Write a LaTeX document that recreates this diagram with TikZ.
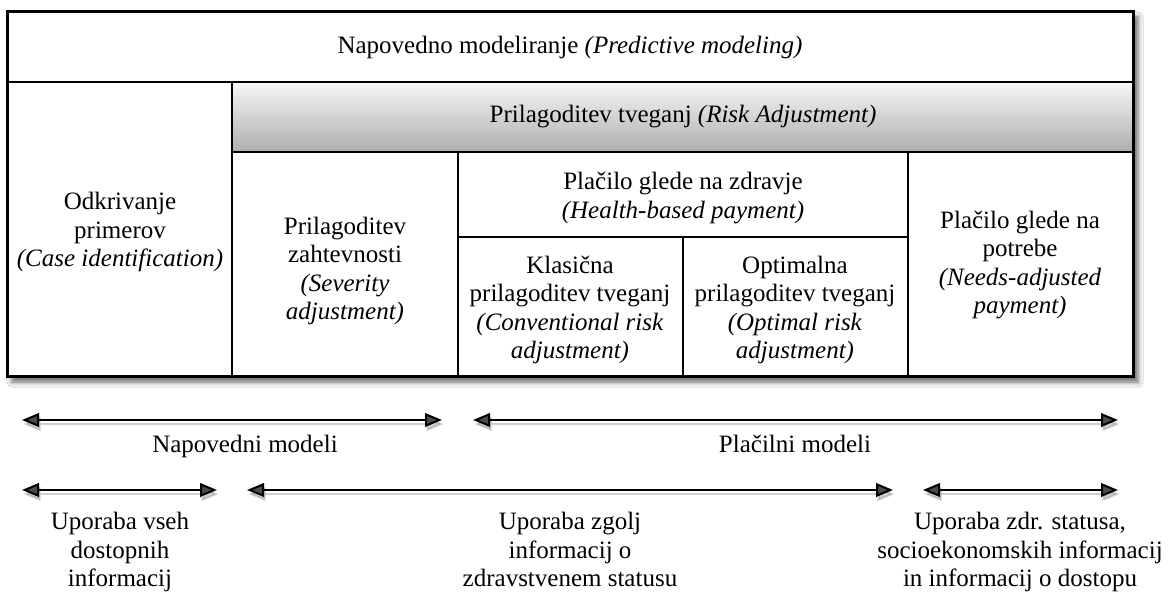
\documentclass[tikz,border=0pt]{standalone}
\usepackage{fontspec}
\setmainfont{Liberation Serif}
\usetikzlibrary{arrows.meta,shadows.blur}
\begin{document}
\begin{tikzpicture}[x=0.5pt,y=-0.5pt,
  font=\fontsize{12.5}{14.2}\selectfont,
  txt/.style={align=center, inner sep=0pt},
  grid/.style={line width=1.1pt},
  arr/.style={line width=1pt, {Triangle[length=8.5pt,width=6.8pt]}-{Triangle[length=8.5pt,width=6.8pt]}},
  arrshadow/.style={arr, draw=black!45, fill=black!45, opacity=0.4, transform canvas={xshift=0.8pt,yshift=-2pt}}]
\useasboundingbox (0,0) rectangle (1176,592);
\fill[white] (0,0) rectangle (1176,592);
% main table with shadow
\path[fill=white, blur shadow={shadow xshift=2.5pt,shadow yshift=-2.5pt,shadow blur radius=2.5pt,shadow opacity=60}] (7,12) rectangle (1133,377);
\shade[top color=black!3, bottom color=black!32] (232,82) rectangle (1133,152);
\draw[grid] (7,82) -- (1133,82);
\draw[grid] (232,82) -- (232,377);
\draw[grid] (232,152) -- (1133,152);
\draw[grid] (458,152) -- (458,377);
\draw[grid] (908,152) -- (908,377);
\draw[grid] (458,237) -- (908,237);
\draw[grid] (683,237) -- (683,377);
\draw[line width=1.5pt] (7,12) rectangle (1133,377);
% cell texts
\node[txt] (pm) at (570,47) {Napovedno modeliranje \textit{(Predictive modeling)}};
\node[txt] (ra) at (683,117) {Prilagoditev tveganj \textit{(Risk Adjustment)}};
\node[txt] (ci) at (120,232) {Odkrivanje\\primerov\\\textit{(Case identification)}};
\node[txt] (sa) at (345,271) {Prilagoditev\\zahtevnosti\\\textit{(Severity}\\\textit{adjustment)}};
\node[txt] (hb) at (683,198) {Plačilo glede na zdravje\\\textit{(Health-based payment)}};
\node[txt] (cr) at (570,310) {Klasična\\prilagoditev tveganj\\\textit{(Conventional risk}\\\textit{adjustment)}};
\node[txt] (or) at (795,310) {Optimalna\\prilagoditev tveganj\\\textit{(Optimal risk}\\\textit{adjustment)}};
\node[txt] (na) at (1020,265) {Plačilo glede na\\potrebe\\\textit{(Needs-adjusted}\\\textit{payment)}};
% arrows
\coordinate (a1l) at (22,420);  \coordinate (a1r) at (442,420);
\coordinate (a2l) at (473,420); \coordinate (a2r) at (1118,420);
\coordinate (b1l) at (22,490);  \coordinate (b1r) at (217,490);
\coordinate (b2l) at (247,490); \coordinate (b2r) at (893,490);
\coordinate (b3l) at (923,490); \coordinate (b3r) at (1118,490);
\foreach \p/\q in {a1l/a1r,a2l/a2r,b1l/b1r,b2l/b2r,b3l/b3r}{
  \draw[arrshadow] (\p) -- (\q);
}
\foreach \p/\q in {a1l/a1r,a2l/a2r,b1l/b1r,b2l/b2r,b3l/b3r}{
  \draw[arr] (\p) -- (\q);
}
% labels
\node[txt, anchor=base] (nm) at (245,452) {Napovedni modeli};
\node[txt, anchor=base] (plm) at (795,452) {Plačilni modeli};
\node[txt, anchor=north] (u1) at (120,512) {Uporaba vseh\\dostopnih\\informacij};
\node[txt, anchor=north] (u2) at (570,512) {Uporaba zgolj\\informacij o\\zdravstvenem statusu};
\node[txt, anchor=north] (u3) at (1020,512) {Uporaba zdr. statusa,\\socioekonomskih informacij\\in informacij o dostopu};
\end{tikzpicture}
\end{document}
